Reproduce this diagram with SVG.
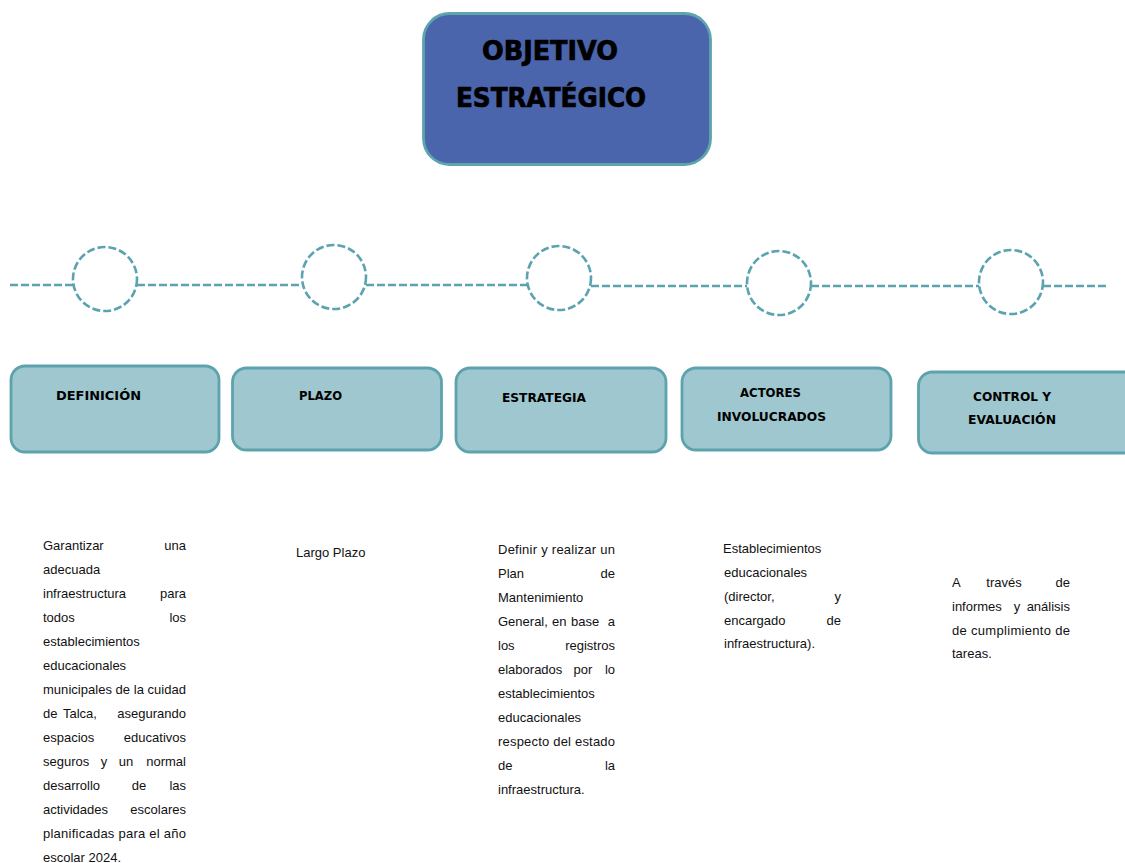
<svg xmlns="http://www.w3.org/2000/svg" width="1125" height="863" viewBox="0 0 1125 863">
<style>
  .dash{fill:none;stroke:#5BA3AE;stroke-width:2.6;stroke-dasharray:8 3}
  .circ{fill:#fff;stroke:#5BA3AE;stroke-width:2.6;stroke-dasharray:8 3}
  .box{fill:#9FC7CF;stroke:#5DA3AE;stroke-width:2.8}
  .lbl{font-family:"DejaVu Sans","Liberation Sans",sans-serif;font-weight:bold;font-size:12.5px;fill:#000}
  .ttl{font-family:"DejaVu Sans","Liberation Sans",sans-serif;font-weight:bold;font-size:26px;fill:#000;stroke:#000;stroke-width:0.7}
  .b{font-family:"Liberation Sans",Arial,sans-serif;font-size:13px;fill:#111}
  .e{text-anchor:end}
  .m{text-anchor:middle}
</style>
<rect width="1125" height="863" fill="#fff"/>
<g id="objetivo">
  <rect x="423.5" y="13.5" width="287" height="151" rx="26" fill="#4A65AC" stroke="#5DA4AD" stroke-width="2.8"/>
  <text class="ttl" x="482" y="60" textLength="136" lengthAdjust="spacingAndGlyphs">OBJETIVO</text>
  <text class="ttl" x="456" y="107" textLength="190" lengthAdjust="spacingAndGlyphs">ESTRATÉGICO</text>
</g>
<g id="connectors">
  <line class="dash" x1="10" y1="285" x2="73" y2="285"/>
  <line class="dash" x1="137" y1="285" x2="302" y2="285"/>
  <line class="dash" x1="366" y1="285" x2="527" y2="285"/>
  <line class="dash" x1="591" y1="286" x2="747" y2="286"/>
  <line class="dash" x1="811" y1="286" x2="979" y2="286"/>
  <line class="dash" x1="1043" y1="286" x2="1108" y2="286"/>
</g>
<g id="circle1"><circle class="circ" cx="105" cy="279" r="32"/></g>
<g id="circle2"><circle class="circ" cx="334" cy="277" r="32"/></g>
<g id="circle3"><circle class="circ" cx="559" cy="278" r="32"/></g>
<g id="circle4"><circle class="circ" cx="779" cy="283" r="32"/></g>
<g id="circle5"><circle class="circ" cx="1011" cy="282" r="32"/></g>

<g id="definicion">
  <rect class="box" x="11" y="366" width="208" height="86" rx="14"/>
  <text class="lbl" x="56" y="400" textLength="85" lengthAdjust="spacingAndGlyphs">DEFINICIÓN</text>
</g>
<g id="plazo">
  <rect class="box" x="232.5" y="368" width="209" height="82" rx="14"/>
  <text class="lbl" x="299" y="400" textLength="43" lengthAdjust="spacingAndGlyphs">PLAZO</text>
</g>
<g id="estrategia">
  <rect class="box" x="456" y="368" width="210" height="84" rx="14"/>
  <text class="lbl" x="502" y="402" textLength="84" lengthAdjust="spacingAndGlyphs">ESTRATEGIA</text>
</g>
<g id="actores">
  <rect class="box" x="682" y="368" width="209" height="82" rx="14"/>
  <text class="lbl" x="740" y="397" textLength="61" lengthAdjust="spacingAndGlyphs">ACTORES</text>
  <text class="lbl" x="717" y="421" textLength="109" lengthAdjust="spacingAndGlyphs">INVOLUCRADOS</text>
</g>
<g id="control">
  <rect class="box" x="918.5" y="372" width="230" height="81" rx="14"/>
  <text class="lbl" x="973" y="401" textLength="78" lengthAdjust="spacingAndGlyphs">CONTROL Y</text>
  <text class="lbl" x="968" y="424" textLength="88" lengthAdjust="spacingAndGlyphs">EVALUACIÓN</text>
</g>

<g id="texto-definicion" class="b">
  <text x="43" y="550">Garantizar</text><text class="e" x="186" y="550">una</text>
  <text x="43" y="574">adecuada</text>
  <text x="43" y="598">infraestructura</text><text class="e" x="186" y="598">para</text>
  <text x="43" y="622">todos</text><text class="e" x="186" y="622">los</text>
  <text x="43" y="646">establecimientos</text>
  <text x="43" y="670">educacionales</text>
  <text x="43" y="694" textLength="143" lengthAdjust="spacing">municipales de la cuidad</text>
  <text x="43" y="718">de</text><text x="63" y="718">Talca,</text><text class="e" x="186" y="718">asegurando</text>
  <text x="43" y="742">espacios</text><text class="e" x="186" y="742">educativos</text>
  <text x="43" y="766">seguros</text><text class="m" x="104" y="766">y</text><text class="m" x="126" y="766">un</text><text class="e" x="186" y="766">normal</text>
  <text x="43" y="790">desarrollo</text><text class="m" x="139" y="790">de</text><text class="e" x="186" y="790">las</text>
  <text x="43" y="814">actividades</text><text class="e" x="186" y="814">escolares</text>
  <text x="43" y="838" textLength="143" lengthAdjust="spacing">planificadas para el año</text>
  <text x="43" y="862">escolar 2024.</text>
</g>
<g id="texto-plazo" class="b">
  <text x="296" y="557">Largo Plazo</text>
</g>
<g id="texto-estrategia" class="b">
  <text x="498" y="554" textLength="117" lengthAdjust="spacing">Definir y realizar un</text>
  <text x="498" y="578">Plan</text><text class="e" x="615" y="578">de</text>
  <text x="498" y="602">Mantenimiento</text>
  <text x="498" y="626">General,</text><text x="552" y="626">en</text><text x="571" y="626">base</text><text class="e" x="615" y="626">a</text>
  <text x="498" y="650">los</text><text class="e" x="615" y="650">registros</text>
  <text x="498" y="674">elaborados</text><text class="m" x="583" y="674">por</text><text class="e" x="615" y="674">lo</text>
  <text x="498" y="698">establecimientos</text>
  <text x="498" y="722">educacionales</text>
  <text x="498" y="746" textLength="117" lengthAdjust="spacing">respecto del estado</text>
  <text x="498" y="770">de</text><text class="e" x="615" y="770">la</text>
  <text x="498" y="794">infraestructura.</text>
</g>
<g id="texto-actores" class="b">
  <text x="723" y="553">Establecimientos</text>
  <text x="724" y="577">educacionales</text>
  <text x="724" y="601">(director,</text><text class="e" x="841" y="601">y</text>
  <text x="724" y="625">encargado</text><text class="e" x="841" y="625">de</text>
  <text x="724" y="648">infraestructura).</text>
</g>
<g id="texto-control" class="b">
  <text x="952" y="587">A</text><text class="m" x="1004" y="587">través</text><text class="e" x="1070" y="587">de</text>
  <text x="952" y="611">informes</text><text class="m" x="1017" y="611">y</text><text class="e" x="1070" y="611">análisis</text>
  <text x="952" y="635" textLength="118" lengthAdjust="spacing">de cumplimiento de</text>
  <text x="952" y="658">tareas.</text>
</g>
</svg>
